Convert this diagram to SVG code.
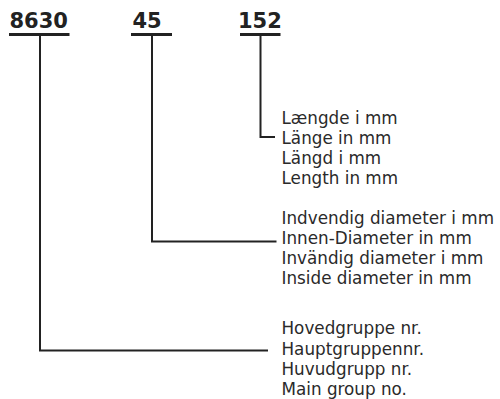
<svg xmlns="http://www.w3.org/2000/svg" width="500" height="399" viewBox="0 0 500 399">
<style>
.num{font-family:"DejaVu Sans",sans-serif;font-weight:bold;font-size:21px;fill:#222}
.lbl{font-family:"DejaVu Sans",sans-serif;font-size:16.8px;fill:#2a2a2a}
.ul{stroke:#222;stroke-width:3;fill:none}
.ln{stroke:#222;stroke-width:2;fill:none}
</style>
<rect width="500" height="399" fill="#fff"/>
<g id="code-main">
<text class="num" x="9.5" y="27.5">8630</text>
<line class="ul" x1="9" y1="34.5" x2="69.5" y2="34.5"/>
</g>
<g id="code-diameter">
<text class="num" x="132.5" y="27.5">45</text>
<line class="ul" x1="131" y1="34.5" x2="172" y2="34.5"/>
</g>
<g id="code-length">
<text class="num" x="238" y="27.5">152</text>
<line class="ul" x1="240" y1="34.5" x2="280.5" y2="34.5"/>
</g>
<g id="label-length">
<text class="lbl" x="281.5" y="123.5">Længde i mm</text>
<text class="lbl" x="281.5" y="143.5">Länge in mm</text>
<text class="lbl" x="281.5" y="163.5">Längd i mm</text>
<text class="lbl" x="281.5" y="183.5">Length in mm</text>
</g>
<g id="label-diameter">
<text class="lbl" x="281.5" y="224">Indvendig diameter i mm</text>
<text class="lbl" x="281.5" y="244">Innen-Diameter in mm</text>
<text class="lbl" x="281.5" y="264">Invändig diameter i mm</text>
<text class="lbl" x="281.5" y="284">Inside diameter in mm</text>
</g>
<g id="label-main">
<text class="lbl" x="281.5" y="334">Hovedgruppe nr.</text>
<text class="lbl" x="281.5" y="354.5">Hauptgruppennr.</text>
<text class="lbl" x="281.5" y="375">Huvudgrupp nr.</text>
<text class="lbl" x="281.5" y="395">Main group no.</text>
</g>
<g id="connectors">
<polyline class="ln" points="40,35 40,350.5 268,350.5"/>
<polyline class="ln" points="152,35 152,241.5 276.5,241.5"/>
<polyline class="ln" points="260.5,35 260.5,137 275,137"/>
</g>
</svg>
